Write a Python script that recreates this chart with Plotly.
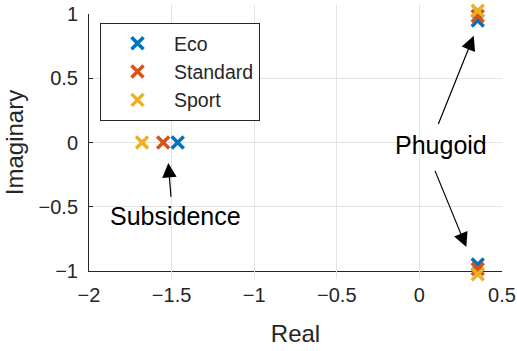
import plotly.graph_objects as go

# Pole locations (real, imaginary) for each driving mode
modes = ["Eco", "Standard", "Sport"]
colors = ["#0072BD", "#D95319", "#EDB120"]
real_parts = {
    "Eco": [-1.463, 0.353, 0.353],
    "Standard": [-1.551, 0.353, 0.353],
    "Sport": [-1.679, 0.353, 0.353],
}
imag_parts = {
    "Eco": [0.0, 0.95, -0.95],
    "Standard": [0.0, 0.985, -0.985],
    "Sport": [0.0, 1.025, -1.025],
}

x_ticks = [-2, -1.5, -1, -0.5, 0, 0.5]
y_ticks = [-1, -0.5, 0, 0.5, 1]

# Page geometry (pixels) used to line up the marker axis with the main axis
W, H = 517, 351
M_L, M_R, M_T, M_B = 89, 15, 5, 72
AX_TOP, AX_BOT = 14, 271          # pixel rows of y = 1 and y = -1
plot_h = H - M_T - M_B
y_dom = [(H - M_B - AX_BOT) / plot_h, (H - M_B - AX_TOP) / plot_h]
px_per_unit = (AX_BOT - AX_TOP) / 2.0
y2_range = [-1 - (H - M_B - AX_BOT) / px_per_unit,
            1 + (AX_TOP - M_T) / px_per_unit]

fig = go.Figure()
for mode, col in zip(modes, colors):
    fig.add_trace(go.Scatter(
        x=real_parts[mode], y=imag_parts[mode], mode="markers", name=mode,
        xaxis="x", yaxis="y2", cliponaxis=False,
        marker=dict(symbol="x-thin", size=12, color=col,
                    line=dict(color=col, width=3.5)),
    ))

ink = "#262626"
arrow_style = dict(showarrow=True, text="", xref="x", yref="y",
                   axref="x", ayref="y",
                   arrowhead=2, arrowsize=2.4, arrowwidth=1.2,
                   arrowcolor="black", standoff=0)

# Subsidence label and arrow
fig.add_annotation(x=-1.477, y=-0.57, xref="x", yref="y", text="Subsidence",
                   showarrow=False, font=dict(size=25, color="black"))
fig.add_annotation(x=-1.52, y=-0.16, ax=-1.503, ay=-0.434, **arrow_style)

# Phugoid label and arrows
fig.add_annotation(x=0.133, y=-0.02, xref="x", yref="y", text="Phugoid",
                   showarrow=False, font=dict(size=25, color="black"))
fig.add_annotation(x=0.329, y=0.83, ax=0.111, ay=0.132, **arrow_style)
fig.add_annotation(x=0.284, y=-0.814, ax=0.091, ay=-0.209, **arrow_style)

axis_common = dict(
    showgrid=True, gridcolor="#e3e3e3", gridwidth=1,
    showline=True, linecolor=ink, linewidth=1,
    ticks="inside", ticklen=4, tickcolor=ink, tickwidth=1,
    tickfont=dict(size=20, color=ink), zeroline=False,
    ticklabelstandoff=6,
)

fig.update_layout(
    width=W, height=H,
    margin=dict(l=M_L, r=M_R, t=M_T, b=M_B, autoexpand=False),
    paper_bgcolor="white", plot_bgcolor="rgba(0,0,0,0)",
    font=dict(family="Liberation Sans, Arial, sans-serif", color=ink),
    xaxis=dict(range=[-2, 0.5], tickvals=x_ticks, anchor="y",
               title=dict(text="Real", font=dict(size=24, color=ink), standoff=20),
               **axis_common),
    yaxis=dict(range=[-1, 1], tickvals=y_ticks, domain=y_dom, anchor="x",
               title=dict(text="Imaginary", font=dict(size=24, color=ink), standoff=8),
               **axis_common),
    yaxis2=dict(range=y2_range, domain=[0, 1], anchor="x", visible=False,
                showgrid=False, zeroline=False),
    legend=dict(x=(100 - M_L) / (W - M_L - M_R),
                y=(H - M_B - 23) / plot_h,
                xanchor="left", yanchor="top",
                bgcolor="white", bordercolor=ink, borderwidth=1,
                font=dict(size=19.5, color=ink), itemwidth=63,
                tracegroupgap=0),
    showlegend=True,
)

fig.write_html("out.html")
